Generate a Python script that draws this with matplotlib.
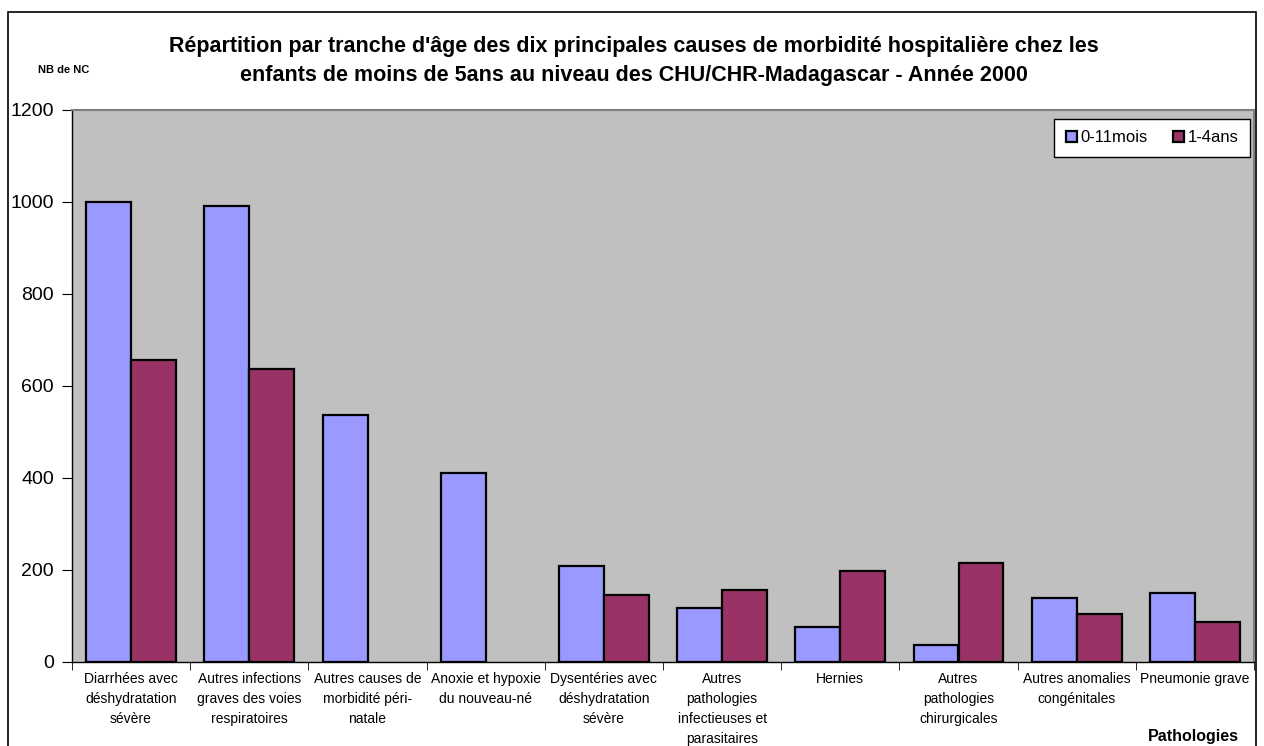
import numpy as np
import matplotlib.pyplot as plt
from matplotlib.patches import Rectangle

plt.rcParams['font.family'] = ['Liberation Sans', 'DejaVu Sans']

# Données
categories = [
    "Diarrhées avec\ndéshydratation\nsévère",
    "Autres infections\ngraves des voies\nrespiratoires",
    "Autres causes de\nmorbidité péri-\nnatale",
    "Anoxie et hypoxie\ndu nouveau-né",
    "Dysentéries avec\ndéshydratation\nsévère",
    "Autres\npathologies\ninfectieuses et\nparasitaires",
    "Hernies",
    "Autres\npathologies\nchirurgicales",
    "Autres anomalies\ncongénitales",
    "Pneumonie grave",
]
mois_0_11 = [1001, 991, 537, 410, 209, 118, 76, 36, 139, 150]
ans_1_4 = [657, 638, 0, 0, 146, 156, 197, 216, 105, 88]
yticks = [0, 200, 400, 600, 800, 1000, 1200]

W, H = 1264, 746
fig = plt.figure(figsize=(W / 100, H / 100), dpi=100)
fig.patch.set_facecolor('white')

# cadre extérieur
fig.patches.append(Rectangle((8 / W, -0.01), (1256 - 8) / W, 1 - 12 / H + 0.01,
                             transform=fig.transFigure, fill=False,
                             edgecolor='black', linewidth=1.2))

left, right, top, bottom = 72, 1254, 110, 662
ax = fig.add_axes([left / W, 1 - bottom / H, (right - left) / W, (bottom - top) / H])
ax.set_facecolor('#C0C0C0')

x = np.arange(len(categories))
bw = 0.38
b1 = ax.bar(x - bw / 2, mois_0_11, bw, color='#9999FF', edgecolor='black',
            linewidth=1.6, label='0-11mois')
b2 = ax.bar(x + bw / 2, ans_1_4, bw, color='#993366', edgecolor='black',
            linewidth=1.6, label='1-4ans')
# pas de trait pour les barres nulles
for bars in (b1, b2):
    for r in bars:
        if r.get_height() == 0:
            r.set_visible(False)

ax.set_xlim(-0.5, len(categories) - 0.5)
ax.set_ylim(0, 1200)
ax.set_yticks(yticks)
ax.tick_params(axis='y', labelsize=14, length=7, direction='out', pad=6)

ax.set_xticks(x)
ax.set_xticklabels(categories, fontsize=10, linespacing=1.55, va='top')
ax.tick_params(axis='x', which='major', length=0, pad=7)
ax.set_xticks(np.arange(len(categories) + 1) - 0.5, minor=True)
ax.tick_params(axis='x', which='minor', length=6, direction='out')

for s in ['top', 'right']:
    ax.spines[s].set_color('#808080')
    ax.spines[s].set_linewidth(1.5)
for s in ['left', 'bottom']:
    ax.spines[s].set_color('black')
    ax.spines[s].set_linewidth(1.0)

leg = ax.legend(loc='upper right', bbox_to_anchor=(0.9966, 0.984), ncol=2,
                fontsize=12, frameon=True, fancybox=False, framealpha=1,
                edgecolor='black', handlelength=0.66, handleheight=0.66,
                handletextpad=0.2, columnspacing=1.55, borderpad=0.7,
                borderaxespad=0)
leg.get_frame().set_linewidth(1.0)

fig.text(634 / W, 1 - 61 / H,
         "Répartition par tranche d'âge des dix principales causes de morbidité hospitalière chez les\n"
         "enfants de moins de 5ans au niveau des CHU/CHR-Madagascar - Année 2000",
         ha='center', va='center', fontsize=15.5, fontweight='bold', linespacing=1.45)
fig.text(38 / W, 1 - 70 / H, "NB de NC", ha='left', va='center', fontsize=8, fontweight='bold')
fig.text(1239 / W, 1 - 737 / H, "Pathologies", ha='right', va='center', fontsize=11.5, fontweight='bold')

fig.savefig('out.png', dpi=100)
